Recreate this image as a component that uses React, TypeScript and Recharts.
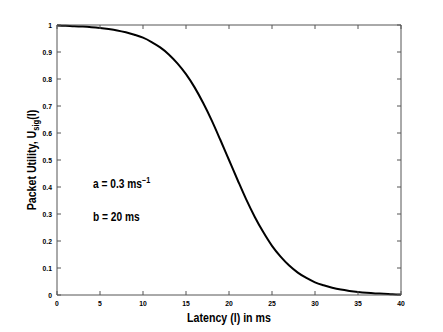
import React from "react";
import { LineChart, Line, XAxis, YAxis, Customized } from "recharts";

// latency in ms
const latency = [
  0, 1, 2, 3, 4, 5, 6, 7, 8, 9, 10, 11, 12, 13, 14, 15, 16, 17, 18, 19, 20,
  21, 22, 23, 24, 25, 26, 27, 28, 29, 30, 31, 32, 33, 34, 35, 36, 37, 38, 39, 40,
];
// packet utility
const utility = [
  0.998, 0.997, 0.995, 0.994, 0.992, 0.989, 0.985, 0.980, 0.973, 0.964, 0.953,
  0.937, 0.917, 0.891, 0.858, 0.818, 0.769, 0.711, 0.646, 0.574, 0.5,
  0.426, 0.354, 0.289, 0.232, 0.182, 0.142, 0.109, 0.083, 0.063, 0.047,
  0.036, 0.027, 0.020, 0.015, 0.011, 0.008, 0.006, 0.005, 0.003, 0.002,
];
const xTicks = [0, 5, 10, 15, 20, 25, 30, 35, 40];
const yTicks = [0, 0.1, 0.2, 0.3, 0.4, 0.5, 0.6, 0.7, 0.8, 0.9, 1];

const data = latency.map((l, i) => ({ l, u: utility[i] }));

const FONT = "'Liberation Sans', Arial, sans-serif";
const AXIS = "#555";
const SQ = 0.85; // squeeze to mimic a narrow font

const XTick = ({ x, y, payload }: any) => (
  <text
    transform={`translate(${x},${y}) scale(${SQ},1)`}
    textAnchor="middle"
    dy="0.71em"
    fontSize={8}
    fontWeight={700}
    fontFamily={FONT}
    fill="#000"
  >
    {payload.value}
  </text>
);

const YTick = ({ x, y, payload }: any) => (
  <text
    transform={`translate(${x},${y}) scale(${SQ},1)`}
    textAnchor="end"
    dy="0.35em"
    fontSize={8}
    fontWeight={700}
    fontFamily={FONT}
    fill="#000"
  >
    {payload.value}
  </text>
);

const Notes = () => (
  <g fontFamily={FONT} fontWeight={700} fill="#000">
    <text transform={`translate(93,188) scale(${SQ},1)`} fontSize={12}>
      a = 0.3 ms<tspan dy={-5} fontSize={8.5}>−1</tspan>
    </text>
    <text transform={`translate(93,221) scale(${SQ},1)`} fontSize={12}>b = 20 ms</text>
    <text transform={`translate(229,322) scale(${SQ},1)`} fontSize={12.5} textAnchor="middle">
      Latency (l) in ms
    </text>
    <text transform={`translate(36,160) rotate(-90) scale(${SQ},1)`} fontSize={12.5} textAnchor="middle">
      Packet Utility, U<tspan dy={3} fontSize={9}>sig</tspan>
      <tspan dy={-3}>(l)</tspan>
    </text>
  </g>
);

export default function App() {
  return (
    <div style={{ position: "absolute", left: 0, top: 0, background: "#fff" }}>
      <LineChart
        width={443}
        height={332}
        data={data}
        margin={{ top: 24, right: 41, bottom: 0, left: 0 }}
      >
        <XAxis
          dataKey="l"
          type="number"
          domain={[0, 40]}
          ticks={xTicks}
          height={37}
          tickSize={-4}
          tickMargin={9}
          stroke={AXIS}
          tick={<XTick />}
          interval={0}
        />
        <XAxis
          xAxisId="top"
          dataKey="l"
          type="number"
          orientation="top"
          domain={[0, 40]}
          ticks={xTicks}
          height={1}
          tickSize={-4}
          stroke={AXIS}
          tickFormatter={() => ""}
          interval={0}
        />
        <YAxis
          type="number"
          domain={[0, 1]}
          ticks={yTicks}
          width={57}
          tickSize={-4}
          tickMargin={9}
          stroke={AXIS}
          tick={<YTick />}
          interval={0}
        />
        <YAxis
          yAxisId="right"
          type="number"
          orientation="right"
          domain={[0, 1]}
          ticks={yTicks}
          width={1}
          tickSize={-4}
          stroke={AXIS}
          tickFormatter={() => ""}
          interval={0}
        />
        {/* invisible copy so the top/right frame axes have a series attached */}
        <Line
          xAxisId="top"
          yAxisId="right"
          dataKey="u"
          stroke="none"
          dot={false}
          activeDot={false}
          isAnimationActive={false}
          legendType="none"
        />
        <Line
          dataKey="u"
          type="monotone"
          stroke="#000"
          strokeWidth={2}
          dot={false}
          isAnimationActive={false}
        />
        <Customized component={Notes} />
      </LineChart>
    </div>
  );
}
